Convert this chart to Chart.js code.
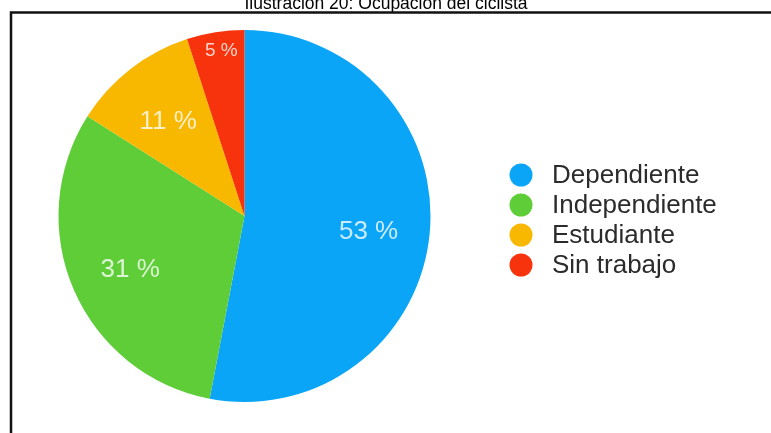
<!DOCTYPE html>
<html>
<head>
<meta charset="utf-8">
<script src="https://cdn.jsdelivr.net/npm/chart.js@4.4.1/dist/chart.umd.min.js"></script>
<style>
  html, body { margin: 0; padding: 0; background: #fff; }
  #wrap { position: relative; width: 771px; height: 433px; }
</style>
</head>
<body>
<div id="wrap"><canvas id="ocupacion_canvas" width="771" height="433"></canvas></div>
<script>
var chart_title = 'Ilustración 20: Ocupación del ciclista';
var ocupacion_labels = ['Dependiente', 'Independiente', 'Estudiante', 'Sin trabajo'];
var ocupacion_data = [53, 31, 11, 5];
var ocupacion_colors = ['#0aa5f6', '#5ecd37', '#f8b800', '#f6330c'];

// title, frame, slice labels and legend drawn on top of the pie
var decor_plugin = {
  id: 'decor',
  afterDraw: function(chart) {
    var ctx = chart.ctx;
    var meta = chart.getDatasetMeta(0);

    ctx.save();
    // title (top of it runs off the page)
    ctx.fillStyle = '#000';
    ctx.font = '17.5px "Liberation Sans", Arial, sans-serif';
    ctx.textAlign = 'center';
    ctx.textBaseline = 'alphabetic';
    ctx.fillText(chart_title, 386, 9);

    // frame
    ctx.strokeStyle = '#111';
    ctx.lineWidth = 2.5;
    ctx.beginPath();
    ctx.moveTo(11, 433);
    ctx.lineTo(11, 12.5);
    ctx.lineTo(771, 12.5);
    ctx.stroke();

    // percentage labels inside slices
    ctx.fillStyle = 'rgba(255,255,255,0.78)';
    ctx.textBaseline = 'middle';
    meta.data.forEach(function(arc, i) {
      var v = ocupacion_data[i];
      var small = v < 8;
      var p = arc.getProps(['x', 'y', 'startAngle', 'endAngle', 'outerRadius'], true);
      var mid = (p.startAngle + p.endAngle) / 2;
      var f = small ? 0.9 : 0.67;
      var x = p.x + Math.cos(mid) * p.outerRadius * f + (small ? 3 : 0);
      var y = p.y + Math.sin(mid) * p.outerRadius * f + (small ? 0 : 4);
      ctx.font = (small ? '19px' : '26px') + ' "Liberation Sans", Arial, sans-serif';
      ctx.fillText(v + ' %', x, y);
    });

    // legend
    ctx.textAlign = 'left';
    ctx.font = '26px "Liberation Sans", Arial, sans-serif';
    for (var i = 0; i < ocupacion_labels.length; i++) {
      var ly = 175 + i * 30;
      ctx.fillStyle = ocupacion_colors[i];
      ctx.beginPath();
      ctx.arc(521, ly, 11.5, 0, Math.PI * 2);
      ctx.fill();
      ctx.fillStyle = '#2b2b2b';
      ctx.fillText(ocupacion_labels[i], 552, ly + 1);
    }
    ctx.restore();
  }
};

new Chart(document.getElementById('ocupacion_canvas').getContext('2d'), {
  type: 'pie',
  data: {
    labels: ocupacion_labels,
    datasets: [{
      data: ocupacion_data,
      backgroundColor: ocupacion_colors,
      borderWidth: 0
    }]
  },
  options: {
    responsive: false,
    animation: false,
    layout: { padding: { left: 58, right: 340, top: 30, bottom: 31 } },
    plugins: {
      legend: { display: false },
      tooltip: { enabled: false }
    }
  },
  plugins: [decor_plugin]
});
</script>
</body>
</html>
